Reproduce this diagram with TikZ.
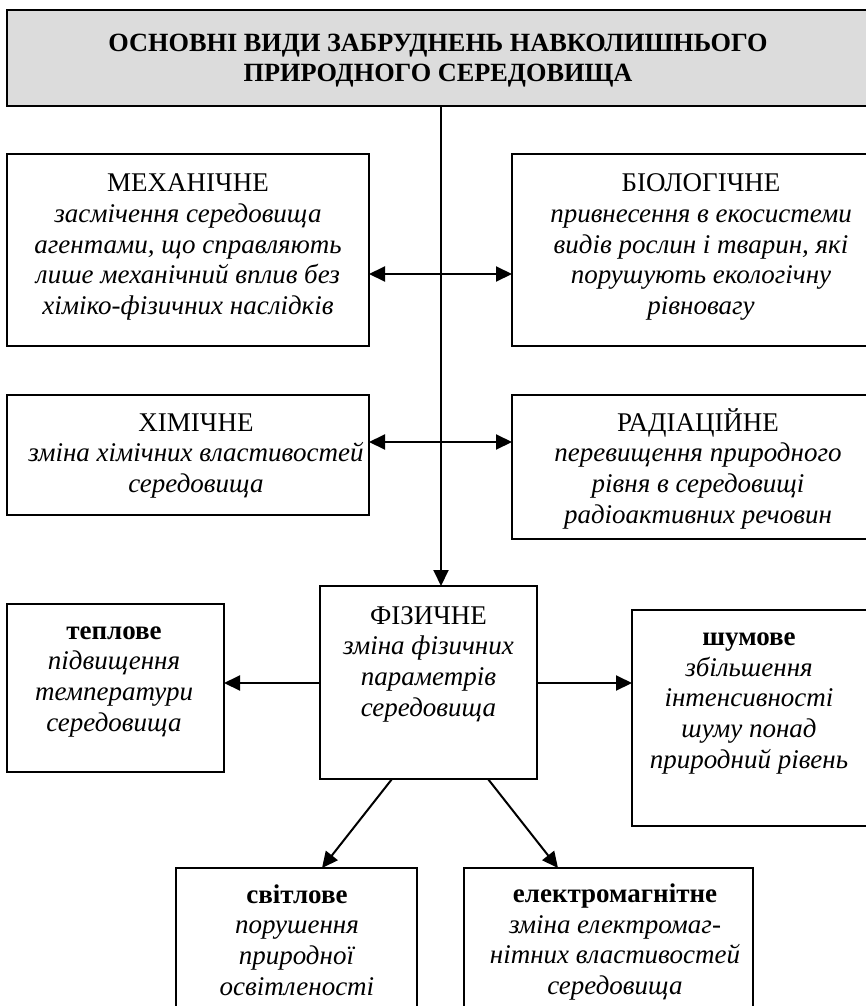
\documentclass[tikz,border=0pt]{standalone}
\usepackage{fontspec}
\setmainfont{Liberation Serif}
\usetikzlibrary{arrows.meta,calc}
\definecolor{titlegray}{HTML}{DCDCDC}

\begin{document}
\begin{tikzpicture}[x=1pt,y=-1pt,
  box/.style={draw, line width=1.3pt, inner sep=0pt, outer sep=0pt, anchor=north west},
  % text blocks are placed by the baseline of their last line
  txt/.style={align=center, inner sep=0pt, anchor=base, font=\fontsize{27}{30.7}\selectfont},
  conn/.style={line width=2pt, -{Triangle[length=16pt,width=15pt]}},
  conntwo/.style={line width=2pt, {Triangle[length=16pt,width=15pt]}-{Triangle[length=16pt,width=15pt]}}]

\useasboundingbox (0,0) rectangle (866,1006);
\clip (0,0) rectangle (866,1006);

% boxes
\node[box, fill=titlegray, minimum width=883pt, minimum height=96pt] (title) at (7,10) {};
\node[box, minimum width=362pt, minimum height=192pt] (mech)  at (7,154) {};
\node[box, minimum width=378pt, minimum height=192pt] (bio)   at (512,154) {};
\node[box, minimum width=362pt, minimum height=120pt] (chem)  at (7,395) {};
\node[box, minimum width=378pt, minimum height=144pt] (rad)   at (512,395) {};
\node[box, minimum width=217pt, minimum height=193pt] (phys)  at (320,586) {};
\node[box, minimum width=217pt, minimum height=168pt] (heat)  at (7,604) {};
\node[box, minimum width=240pt, minimum height=216pt] (noise) at (632,610) {};
\node[box, minimum width=241pt, minimum height=160pt] (light) at (176,868) {};
\node[box, minimum width=289pt, minimum height=160pt] (em)    at (464,868) {};

% texts
\node[txt, font=\fontsize{26.3}{30}\selectfont\bfseries] (titlet) at (438,82)
  {ОСНОВНІ ВИДИ ЗАБРУДНЕНЬ НАВКОЛИШНЬОГО\\ПРИРОДНОГО СЕРЕДОВИЩА};
\node[txt] (mecht) at (188,314.5) {МЕХАНІЧНЕ\\\textit{засмічення середовища}\\\textit{агентами, що справляють}\\\textit{лише механічний вплив без}\\\textit{хіміко-фізичних наслідків}};
\node[txt] (biot) at (701,314.5) {БІОЛОГІЧНЕ\\\textit{привнесення в екосистеми}\\\textit{видів рослин і тварин, які}\\\textit{порушують екологічну}\\\textit{рівновагу}};
\node[txt] (chemt) at (196,492.4) {ХІМІЧНЕ\\\textit{зміна хімічних властивостей}\\\textit{середовища}};
\node[txt] (radt) at (698,523.1) {РАДІАЦІЙНЕ\\\textit{перевищення природного}\\\textit{рівня в середовищі}\\\textit{радіоактивних речовин}};
\node[txt] (physt) at (428.5,716.1) {ФІЗИЧНЕ\\\textit{зміна фізичних}\\\textit{параметрів}\\\textit{середовища}};
\node[txt] (heatt) at (114,731.1) {\textbf{теплове}\\\textit{підвищення}\\\textit{температури}\\\textit{середовища}};
\node[txt] (noiset) at (749,768.3) {\textbf{шумове}\\\textit{збільшення}\\\textit{інтенсивності}\\\textit{шуму понад}\\\textit{природний рівень}};
\node[txt] (lightt) at (297,995.1) {\textbf{світлове}\\\textit{порушення}\\\textit{природної}\\\textit{освітленості}};
\node[txt] (emt) at (615,994.6) {\textbf{електромагнітне}\\\textit{зміна електромаг-}\\\textit{нітних властивостей}\\\textit{середовища}};

% connector levels
\coordinate (r1) at (441,274);
\coordinate (r2) at (441,442);
\coordinate (r3) at (441,683);

% connectors
\draw[conn] (title.south -| r1) -- (phys.north -| r1);
\draw[conntwo] (mech.east |- r1) -- (bio.west |- r1);
\draw[conntwo] (chem.east |- r2) -- (rad.west |- r2);
\draw[conn] (phys.west |- r3) -- (heat.east |- r3);
\draw[conn] (phys.east |- r3) -- (noise.west |- r3);
\draw[conn] ([xshift=-36.5pt]phys.south) -- ([xshift=25.5pt]light.north);
\draw[conn] ([xshift=59.5pt]phys.south) -- ([xshift=-50.5pt]em.north);
\end{tikzpicture}
\end{document}
